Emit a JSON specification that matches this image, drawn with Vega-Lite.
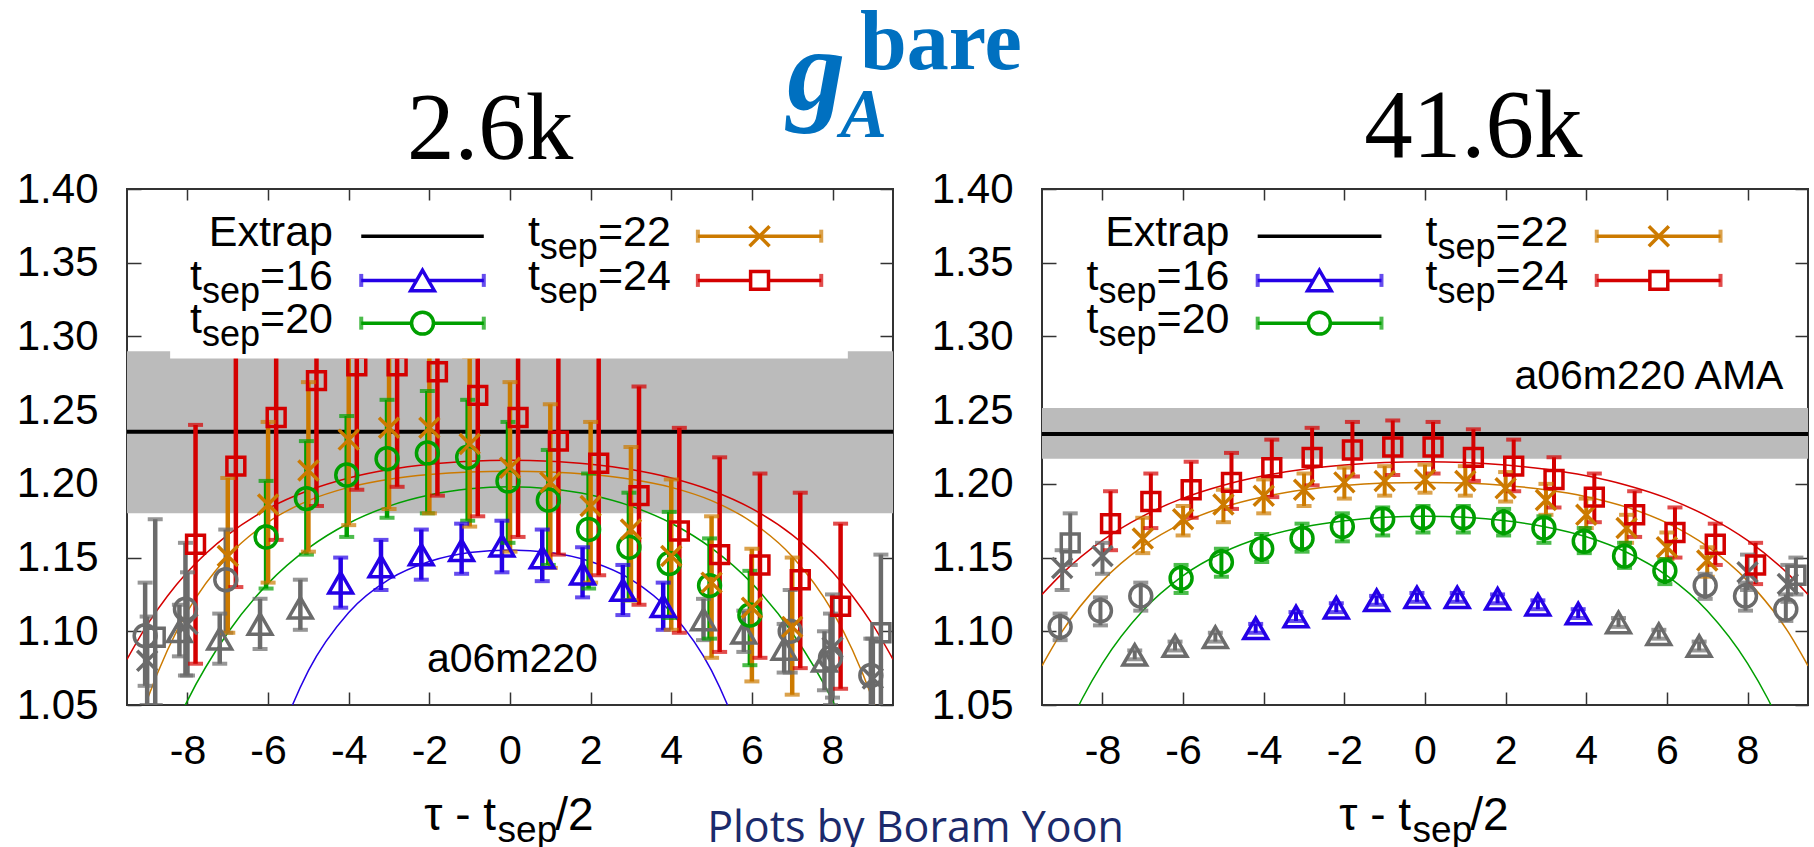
{
"$schema": "https://vega.github.io/schema/vega-lite/v6.json",
"background": "white",
"padding": {"left": 5, "top": 0, "right": 0, "bottom": 0},
"bounds": "flush",
"spacing": 149,
"config": {"view": {"stroke": "#333333", "strokeWidth": 2}, "font": "Liberation Sans"},
"datasets": {
"band": [
{"p":"L","x1":-9.5,"x2":9.5,"lo":1.18,"hi":1.29,"ex":1.2353},
{"p":"R","x1":-9.5,"x2":9.5,"lo":1.2171,"hi":1.2515,"ex":1.2339}
],
"box": [{"p":"L","x1":-8.43,"x2":8.38,"y1":1.285,"y2":1.391}],
"pts": [
{"p":"L","s":"16","c":"g","x":-8.2,"y":1.100,"lo":1.083,"hi":1.118},
{"p":"L","s":"16","c":"g","x":-7.2,"y":1.095,"lo":1.078,"hi":1.112},
{"p":"L","s":"16","c":"g","x":-6.2,"y":1.105,"lo":1.088,"hi":1.122},
{"p":"L","s":"16","c":"g","x":-5.2,"y":1.116,"lo":1.101,"hi":1.135},
{"p":"L","s":"16","c":"g","x":4.8,"y":1.108,"lo":1.094,"hi":1.122},
{"p":"L","s":"16","c":"g","x":5.8,"y":1.099,"lo":1.086,"hi":1.114},
{"p":"L","s":"16","c":"g","x":6.8,"y":1.088,"lo":1.072,"hi":1.105},
{"p":"L","s":"16","c":"g","x":7.8,"y":1.080,"lo":1.060,"hi":1.100},
{"p":"L","s":"20","c":"g","x":-9.05,"y":1.097,"lo":1.063,"hi":1.133},
{"p":"L","s":"20","c":"g","x":-8.05,"y":1.115,"lo":1.070,"hi":1.160},
{"p":"L","s":"20","c":"g","x":-7.05,"y":1.135,"lo":1.099,"hi":1.169},
{"p":"L","s":"20","c":"g","x":6.95,"y":1.100,"lo":1.072,"hi":1.128},
{"p":"L","s":"20","c":"g","x":7.95,"y":1.082,"lo":1.050,"hi":1.112},
{"p":"L","s":"20","c":"g","x":8.95,"y":1.070,"lo":1.045,"hi":1.095},
{"p":"L","s":"22","c":"g","x":-9,"y":1.080,"lo":1.050,"hi":1.110},
{"p":"L","s":"22","c":"g","x":-8,"y":1.105,"lo":1.070,"hi":1.140},
{"p":"L","s":"22","c":"g","x":8,"y":1.089,"lo":1.055,"hi":1.125},
{"p":"L","s":"22","c":"g","x":9,"y":1.068,"lo":1.045,"hi":1.095},
{"p":"L","s":"24","c":"g","x":-8.8,"y":1.096,"lo":1.050,"hi":1.176},
{"p":"L","s":"24","c":"g","x":9.2,"y":1.099,"lo":1.046,"hi":1.152},
{"p":"L","s":"16","c":"16","x":-4.2,"y":1.133,"lo":1.116,"hi":1.150},
{"p":"L","s":"16","c":"16","x":-3.2,"y":1.144,"lo":1.128,"hi":1.162},
{"p":"L","s":"16","c":"16","x":-2.2,"y":1.152,"lo":1.135,"hi":1.169},
{"p":"L","s":"16","c":"16","x":-1.2,"y":1.155,"lo":1.139,"hi":1.173},
{"p":"L","s":"16","c":"16","x":-0.2,"y":1.158,"lo":1.140,"hi":1.175},
{"p":"L","s":"16","c":"16","x":0.8,"y":1.150,"lo":1.134,"hi":1.169},
{"p":"L","s":"16","c":"16","x":1.8,"y":1.139,"lo":1.123,"hi":1.157},
{"p":"L","s":"16","c":"16","x":2.8,"y":1.128,"lo":1.111,"hi":1.145},
{"p":"L","s":"16","c":"16","x":3.8,"y":1.117,"lo":1.101,"hi":1.133},
{"p":"L","s":"20","c":"20","x":-6.05,"y":1.164,"lo":1.129,"hi":1.202},
{"p":"L","s":"20","c":"20","x":-5.05,"y":1.190,"lo":1.152,"hi":1.229},
{"p":"L","s":"20","c":"20","x":-4.05,"y":1.206,"lo":1.164,"hi":1.246},
{"p":"L","s":"20","c":"20","x":-3.05,"y":1.217,"lo":1.177,"hi":1.257},
{"p":"L","s":"20","c":"20","x":-2.05,"y":1.221,"lo":1.180,"hi":1.263},
{"p":"L","s":"20","c":"20","x":-1.05,"y":1.218,"lo":1.175,"hi":1.257},
{"p":"L","s":"20","c":"20","x":-0.05,"y":1.202,"lo":1.160,"hi":1.242},
{"p":"L","s":"20","c":"20","x":0.95,"y":1.189,"lo":1.145,"hi":1.223},
{"p":"L","s":"20","c":"20","x":1.95,"y":1.169,"lo":1.129,"hi":1.207},
{"p":"L","s":"20","c":"20","x":2.95,"y":1.157,"lo":1.121,"hi":1.194},
{"p":"L","s":"20","c":"20","x":3.95,"y":1.146,"lo":1.109,"hi":1.181},
{"p":"L","s":"20","c":"20","x":4.95,"y":1.131,"lo":1.095,"hi":1.163},
{"p":"L","s":"20","c":"20","x":5.95,"y":1.111,"lo":1.077,"hi":1.141},
{"p":"L","s":"22","c":"22","x":-7,"y":1.151,"lo":1.099,"hi":1.204},
{"p":"L","s":"22","c":"22","x":-6,"y":1.186,"lo":1.133,"hi":1.242},
{"p":"L","s":"22","c":"22","x":-5,"y":1.209,"lo":1.154,"hi":1.269},
{"p":"L","s":"22","c":"22","x":-4,"y":1.230,"lo":1.172,"hi":1.290},
{"p":"L","s":"22","c":"22","x":-3,"y":1.238,"lo":1.183,"hi":1.293},
{"p":"L","s":"22","c":"22","x":-2,"y":1.238,"lo":1.180,"hi":1.296},
{"p":"L","s":"22","c":"22","x":-1,"y":1.227,"lo":1.171,"hi":1.286},
{"p":"L","s":"22","c":"22","x":0,"y":1.211,"lo":1.154,"hi":1.269},
{"p":"L","s":"22","c":"22","x":1,"y":1.201,"lo":1.143,"hi":1.254},
{"p":"L","s":"22","c":"22","x":2,"y":1.185,"lo":1.133,"hi":1.242},
{"p":"L","s":"22","c":"22","x":3,"y":1.169,"lo":1.121,"hi":1.225},
{"p":"L","s":"22","c":"22","x":4,"y":1.151,"lo":1.101,"hi":1.203},
{"p":"L","s":"22","c":"22","x":5,"y":1.133,"lo":1.082,"hi":1.178},
{"p":"L","s":"22","c":"22","x":6,"y":1.116,"lo":1.066,"hi":1.156},
{"p":"L","s":"22","c":"22","x":7,"y":1.103,"lo":1.057,"hi":1.150},
{"p":"L","s":"24","c":"24","x":-7.8,"y":1.159,"lo":1.078,"hi":1.240},
{"p":"L","s":"24","c":"24","x":-6.8,"y":1.212,"lo":1.130,"hi":1.294},
{"p":"L","s":"24","c":"24","x":-5.8,"y":1.245,"lo":1.162,"hi":1.328},
{"p":"L","s":"24","c":"24","x":-4.8,"y":1.270,"lo":1.185,"hi":1.355},
{"p":"L","s":"24","c":"24","x":-3.8,"y":1.280,"lo":1.196,"hi":1.364},
{"p":"L","s":"24","c":"24","x":-2.8,"y":1.280,"lo":1.198,"hi":1.362},
{"p":"L","s":"24","c":"24","x":-1.8,"y":1.276,"lo":1.192,"hi":1.360},
{"p":"L","s":"24","c":"24","x":-0.8,"y":1.260,"lo":1.178,"hi":1.342},
{"p":"L","s":"24","c":"24","x":0.2,"y":1.245,"lo":1.164,"hi":1.326},
{"p":"L","s":"24","c":"24","x":1.2,"y":1.229,"lo":1.152,"hi":1.306},
{"p":"L","s":"24","c":"24","x":2.2,"y":1.214,"lo":1.138,"hi":1.290},
{"p":"L","s":"24","c":"24","x":3.2,"y":1.192,"lo":1.118,"hi":1.266},
{"p":"L","s":"24","c":"24","x":4.2,"y":1.168,"lo":1.099,"hi":1.238},
{"p":"L","s":"24","c":"24","x":5.2,"y":1.152,"lo":1.086,"hi":1.218},
{"p":"L","s":"24","c":"24","x":6.2,"y":1.145,"lo":1.082,"hi":1.207},
{"p":"L","s":"24","c":"24","x":7.2,"y":1.135,"lo":1.075,"hi":1.194},
{"p":"L","s":"24","c":"24","x":8.2,"y":1.117,"lo":1.061,"hi":1.173},
{"p":"R","s":"16","c":"g","x":-7.2,"y":1.084,"lo":1.081,"hi":1.087},
{"p":"R","s":"16","c":"g","x":-6.2,"y":1.090,"lo":1.087,"hi":1.093},
{"p":"R","s":"16","c":"g","x":-5.2,"y":1.096,"lo":1.093,"hi":1.099},
{"p":"R","s":"16","c":"g","x":4.8,"y":1.106,"lo":1.103,"hi":1.109},
{"p":"R","s":"16","c":"g","x":5.8,"y":1.098,"lo":1.095,"hi":1.101},
{"p":"R","s":"16","c":"g","x":6.8,"y":1.090,"lo":1.087,"hi":1.093},
{"p":"R","s":"20","c":"g","x":-9.05,"y":1.103,"lo":1.094,"hi":1.112},
{"p":"R","s":"20","c":"g","x":-8.05,"y":1.114,"lo":1.104,"hi":1.123},
{"p":"R","s":"20","c":"g","x":-7.05,"y":1.124,"lo":1.114,"hi":1.133},
{"p":"R","s":"20","c":"g","x":6.95,"y":1.131,"lo":1.122,"hi":1.139},
{"p":"R","s":"20","c":"g","x":7.95,"y":1.124,"lo":1.114,"hi":1.133},
{"p":"R","s":"20","c":"g","x":8.95,"y":1.115,"lo":1.107,"hi":1.125},
{"p":"R","s":"22","c":"g","x":-9,"y":1.143,"lo":1.128,"hi":1.155},
{"p":"R","s":"22","c":"g","x":-8,"y":1.151,"lo":1.139,"hi":1.160},
{"p":"R","s":"22","c":"g","x":8,"y":1.140,"lo":1.128,"hi":1.152},
{"p":"R","s":"22","c":"g","x":9,"y":1.132,"lo":1.120,"hi":1.145},
{"p":"R","s":"24","c":"g","x":-8.8,"y":1.160,"lo":1.145,"hi":1.180},
{"p":"R","s":"24","c":"g","x":9.2,"y":1.138,"lo":1.125,"hi":1.150},
{"p":"R","s":"16","c":"16","x":-4.2,"y":1.102,"lo":1.099,"hi":1.105},
{"p":"R","s":"16","c":"16","x":-3.2,"y":1.110,"lo":1.107,"hi":1.113},
{"p":"R","s":"16","c":"16","x":-2.2,"y":1.116,"lo":1.113,"hi":1.119},
{"p":"R","s":"16","c":"16","x":-1.2,"y":1.121,"lo":1.118,"hi":1.124},
{"p":"R","s":"16","c":"16","x":-0.2,"y":1.123,"lo":1.120,"hi":1.126},
{"p":"R","s":"16","c":"16","x":0.8,"y":1.123,"lo":1.120,"hi":1.126},
{"p":"R","s":"16","c":"16","x":1.8,"y":1.122,"lo":1.119,"hi":1.125},
{"p":"R","s":"16","c":"16","x":2.8,"y":1.118,"lo":1.115,"hi":1.121},
{"p":"R","s":"16","c":"16","x":3.8,"y":1.112,"lo":1.109,"hi":1.115},
{"p":"R","s":"20","c":"20","x":-6.05,"y":1.136,"lo":1.126,"hi":1.145},
{"p":"R","s":"20","c":"20","x":-5.05,"y":1.147,"lo":1.137,"hi":1.156},
{"p":"R","s":"20","c":"20","x":-4.05,"y":1.156,"lo":1.147,"hi":1.166},
{"p":"R","s":"20","c":"20","x":-3.05,"y":1.163,"lo":1.154,"hi":1.173},
{"p":"R","s":"20","c":"20","x":-2.05,"y":1.171,"lo":1.161,"hi":1.180},
{"p":"R","s":"20","c":"20","x":-1.05,"y":1.176,"lo":1.165,"hi":1.184},
{"p":"R","s":"20","c":"20","x":-0.05,"y":1.177,"lo":1.167,"hi":1.185},
{"p":"R","s":"20","c":"20","x":0.95,"y":1.177,"lo":1.167,"hi":1.185},
{"p":"R","s":"20","c":"20","x":1.95,"y":1.174,"lo":1.165,"hi":1.183},
{"p":"R","s":"20","c":"20","x":2.95,"y":1.170,"lo":1.160,"hi":1.178},
{"p":"R","s":"20","c":"20","x":3.95,"y":1.161,"lo":1.153,"hi":1.170},
{"p":"R","s":"20","c":"20","x":4.95,"y":1.151,"lo":1.143,"hi":1.160},
{"p":"R","s":"20","c":"20","x":5.95,"y":1.141,"lo":1.132,"hi":1.149},
{"p":"R","s":"22","c":"22","x":-7,"y":1.163,"lo":1.153,"hi":1.177},
{"p":"R","s":"22","c":"22","x":-6,"y":1.176,"lo":1.165,"hi":1.185},
{"p":"R","s":"22","c":"22","x":-5,"y":1.186,"lo":1.174,"hi":1.196},
{"p":"R","s":"22","c":"22","x":-4,"y":1.192,"lo":1.180,"hi":1.203},
{"p":"R","s":"22","c":"22","x":-3,"y":1.196,"lo":1.185,"hi":1.207},
{"p":"R","s":"22","c":"22","x":-2,"y":1.201,"lo":1.190,"hi":1.211},
{"p":"R","s":"22","c":"22","x":-1,"y":1.202,"lo":1.192,"hi":1.212},
{"p":"R","s":"22","c":"22","x":0,"y":1.203,"lo":1.194,"hi":1.213},
{"p":"R","s":"22","c":"22","x":1,"y":1.202,"lo":1.192,"hi":1.212},
{"p":"R","s":"22","c":"22","x":2,"y":1.197,"lo":1.188,"hi":1.208},
{"p":"R","s":"22","c":"22","x":3,"y":1.189,"lo":1.179,"hi":1.200},
{"p":"R","s":"22","c":"22","x":4,"y":1.179,"lo":1.170,"hi":1.190},
{"p":"R","s":"22","c":"22","x":5,"y":1.170,"lo":1.160,"hi":1.179},
{"p":"R","s":"22","c":"22","x":6,"y":1.157,"lo":1.149,"hi":1.167},
{"p":"R","s":"22","c":"22","x":7,"y":1.148,"lo":1.137,"hi":1.157},
{"p":"R","s":"24","c":"24","x":-7.8,"y":1.173,"lo":1.155,"hi":1.195},
{"p":"R","s":"24","c":"24","x":-6.8,"y":1.188,"lo":1.170,"hi":1.207},
{"p":"R","s":"24","c":"24","x":-5.8,"y":1.196,"lo":1.177,"hi":1.215},
{"p":"R","s":"24","c":"24","x":-4.8,"y":1.201,"lo":1.183,"hi":1.221},
{"p":"R","s":"24","c":"24","x":-3.8,"y":1.211,"lo":1.191,"hi":1.230},
{"p":"R","s":"24","c":"24","x":-2.8,"y":1.218,"lo":1.199,"hi":1.238},
{"p":"R","s":"24","c":"24","x":-1.8,"y":1.223,"lo":1.205,"hi":1.242},
{"p":"R","s":"24","c":"24","x":-0.8,"y":1.225,"lo":1.206,"hi":1.243},
{"p":"R","s":"24","c":"24","x":0.2,"y":1.225,"lo":1.207,"hi":1.242},
{"p":"R","s":"24","c":"24","x":1.2,"y":1.218,"lo":1.202,"hi":1.237},
{"p":"R","s":"24","c":"24","x":2.2,"y":1.212,"lo":1.195,"hi":1.230},
{"p":"R","s":"24","c":"24","x":3.2,"y":1.203,"lo":1.184,"hi":1.218},
{"p":"R","s":"24","c":"24","x":4.2,"y":1.191,"lo":1.174,"hi":1.207},
{"p":"R","s":"24","c":"24","x":5.2,"y":1.179,"lo":1.164,"hi":1.195},
{"p":"R","s":"24","c":"24","x":6.2,"y":1.167,"lo":1.150,"hi":1.184},
{"p":"R","s":"24","c":"24","x":7.2,"y":1.159,"lo":1.145,"hi":1.173},
{"p":"R","s":"24","c":"24","x":8.2,"y":1.145,"lo":1.132,"hi":1.160}
],
"fit": [
{"p":"L","s":"24","x":-9.5,"y":1.081},{"p":"L","s":"24","x":-9,"y":1.1043},{"p":"L","s":"24","x":-8.5,"y":1.1238},{"p":"L","s":"24","x":-8,"y":1.1402},{"p":"L","s":"24","x":-7,"y":1.1654},{"p":"L","s":"24","x":-6,"y":1.1832},{"p":"L","s":"24","x":-5,"y":1.1955},{"p":"L","s":"24","x":-4,"y":1.204},{"p":"L","s":"24","x":-3,"y":1.2097},{"p":"L","s":"24","x":-2,"y":1.2133},{"p":"L","s":"24","x":-1,"y":1.2154},{"p":"L","s":"24","x":0,"y":1.216},{"p":"L","s":"24","x":1,"y":1.2154},{"p":"L","s":"24","x":2,"y":1.2133},{"p":"L","s":"24","x":3,"y":1.2097},{"p":"L","s":"24","x":4,"y":1.204},{"p":"L","s":"24","x":5,"y":1.1955},{"p":"L","s":"24","x":6,"y":1.1832},{"p":"L","s":"24","x":7,"y":1.1654},{"p":"L","s":"24","x":8,"y":1.1402},{"p":"L","s":"24","x":8.5,"y":1.1238},{"p":"L","s":"24","x":9,"y":1.1043},{"p":"L","s":"24","x":9.5,"y":1.081},
{"p":"L","s":"22","x":-9.5,"y":1.0115},{"p":"L","s":"22","x":-9,"y":1.0535},{"p":"L","s":"22","x":-8.5,"y":1.087},{"p":"L","s":"22","x":-8,"y":1.1135},{"p":"L","s":"22","x":-7,"y":1.1508},{"p":"L","s":"22","x":-6,"y":1.1741},{"p":"L","s":"22","x":-5,"y":1.1886},{"p":"L","s":"22","x":-4,"y":1.1976},{"p":"L","s":"22","x":-3,"y":1.2031},{"p":"L","s":"22","x":-2,"y":1.2063},{"p":"L","s":"22","x":-1,"y":1.208},{"p":"L","s":"22","x":0,"y":1.2085},{"p":"L","s":"22","x":1,"y":1.208},{"p":"L","s":"22","x":2,"y":1.2063},{"p":"L","s":"22","x":3,"y":1.2031},{"p":"L","s":"22","x":4,"y":1.1976},{"p":"L","s":"22","x":5,"y":1.1886},{"p":"L","s":"22","x":6,"y":1.1741},{"p":"L","s":"22","x":7,"y":1.1508},{"p":"L","s":"22","x":8,"y":1.1135},{"p":"L","s":"22","x":8.5,"y":1.087},{"p":"L","s":"22","x":9,"y":1.0535},{"p":"L","s":"22","x":9.5,"y":1.0115},
{"p":"L","s":"20","x":-9,"y":0.989},{"p":"L","s":"20","x":-8.5,"y":1.023},{"p":"L","s":"20","x":-8,"y":1.053},{"p":"L","s":"20","x":-7,"y":1.099},{"p":"L","s":"20","x":-6,"y":1.1325},{"p":"L","s":"20","x":-5,"y":1.1564},{"p":"L","s":"20","x":-4,"y":1.1733},{"p":"L","s":"20","x":-3,"y":1.1849},{"p":"L","s":"20","x":-2,"y":1.1924},{"p":"L","s":"20","x":-1,"y":1.1966},{"p":"L","s":"20","x":0,"y":1.198},{"p":"L","s":"20","x":1,"y":1.1966},{"p":"L","s":"20","x":2,"y":1.1924},{"p":"L","s":"20","x":3,"y":1.1849},{"p":"L","s":"20","x":4,"y":1.1733},{"p":"L","s":"20","x":5,"y":1.1564},{"p":"L","s":"20","x":6,"y":1.1325},{"p":"L","s":"20","x":7,"y":1.099},{"p":"L","s":"20","x":8,"y":1.053},{"p":"L","s":"20","x":8.5,"y":1.023},{"p":"L","s":"20","x":9,"y":0.989},
{"p":"L","s":"16","x":-6,"y":1.004},{"p":"L","s":"16","x":-5.5,"y":1.043},{"p":"L","s":"16","x":-5,"y":1.0733},{"p":"L","s":"16","x":-4,"y":1.1128},{"p":"L","s":"16","x":-3,"y":1.1352},{"p":"L","s":"16","x":-2,"y":1.1473},{"p":"L","s":"16","x":-1,"y":1.1534},{"p":"L","s":"16","x":0,"y":1.1552},{"p":"L","s":"16","x":1,"y":1.1534},{"p":"L","s":"16","x":2,"y":1.1473},{"p":"L","s":"16","x":3,"y":1.1352},{"p":"L","s":"16","x":4,"y":1.1128},{"p":"L","s":"16","x":5,"y":1.0733},{"p":"L","s":"16","x":5.5,"y":1.043},{"p":"L","s":"16","x":6,"y":1.004},
{"p":"R","s":"24","x":-9.5,"y":1.125},{"p":"R","s":"24","x":-9,"y":1.1391},{"p":"R","s":"24","x":-8,"y":1.1616},{"p":"R","s":"24","x":-7,"y":1.1781},{"p":"R","s":"24","x":-6,"y":1.1903},{"p":"R","s":"24","x":-5,"y":1.1991},{"p":"R","s":"24","x":-4,"y":1.2055},{"p":"R","s":"24","x":-3,"y":1.2099},{"p":"R","s":"24","x":-2,"y":1.2128},{"p":"R","s":"24","x":-1,"y":1.2145},{"p":"R","s":"24","x":0,"y":1.215},{"p":"R","s":"24","x":1,"y":1.2145},{"p":"R","s":"24","x":2,"y":1.2128},{"p":"R","s":"24","x":3,"y":1.2099},{"p":"R","s":"24","x":4,"y":1.2055},{"p":"R","s":"24","x":5,"y":1.1991},{"p":"R","s":"24","x":6,"y":1.1903},{"p":"R","s":"24","x":7,"y":1.1781},{"p":"R","s":"24","x":8,"y":1.1616},{"p":"R","s":"24","x":9,"y":1.1391},{"p":"R","s":"24","x":9.5,"y":1.125},
{"p":"R","s":"22","x":-9.5,"y":1.0766},{"p":"R","s":"22","x":-9,"y":1.0999},{"p":"R","s":"22","x":-8,"y":1.1342},{"p":"R","s":"22","x":-7,"y":1.1576},{"p":"R","s":"22","x":-6,"y":1.1735},{"p":"R","s":"22","x":-5,"y":1.1842},{"p":"R","s":"22","x":-4,"y":1.1913},{"p":"R","s":"22","x":-3,"y":1.196},{"p":"R","s":"22","x":-2,"y":1.1989},{"p":"R","s":"22","x":-1,"y":1.2005},{"p":"R","s":"22","x":0,"y":1.201},{"p":"R","s":"22","x":1,"y":1.2005},{"p":"R","s":"22","x":2,"y":1.1989},{"p":"R","s":"22","x":3,"y":1.196},{"p":"R","s":"22","x":4,"y":1.1913},{"p":"R","s":"22","x":5,"y":1.1842},{"p":"R","s":"22","x":6,"y":1.1735},{"p":"R","s":"22","x":7,"y":1.1576},{"p":"R","s":"22","x":8,"y":1.1342},{"p":"R","s":"22","x":9,"y":1.0999},{"p":"R","s":"22","x":9.5,"y":1.0766},
{"p":"R","s":"20","x":-9,"y":1.0252},{"p":"R","s":"20","x":-8.5,"y":1.0544},{"p":"R","s":"20","x":-8,"y":1.0783},{"p":"R","s":"20","x":-7,"y":1.114},{"p":"R","s":"20","x":-6,"y":1.1378},{"p":"R","s":"20","x":-5,"y":1.1536},{"p":"R","s":"20","x":-4,"y":1.1641},{"p":"R","s":"20","x":-3,"y":1.1708},{"p":"R","s":"20","x":-2,"y":1.175},{"p":"R","s":"20","x":-1,"y":1.1773},{"p":"R","s":"20","x":0,"y":1.178},{"p":"R","s":"20","x":1,"y":1.1773},{"p":"R","s":"20","x":2,"y":1.175},{"p":"R","s":"20","x":3,"y":1.1708},{"p":"R","s":"20","x":4,"y":1.1641},{"p":"R","s":"20","x":5,"y":1.1536},{"p":"R","s":"20","x":6,"y":1.1378},{"p":"R","s":"20","x":7,"y":1.114},{"p":"R","s":"20","x":8,"y":1.0783},{"p":"R","s":"20","x":8.5,"y":1.0544},{"p":"R","s":"20","x":9,"y":1.0252}
],
"leg": [
{"p":"L","k":"extrap","ry":1.368,"x1":-3.69,"x2":-0.65,"xm":-2.17,"xt":-4.39,"lab":"Extrap"},
{"p":"L","k":"16","ry":1.338,"x1":-3.69,"x2":-0.65,"xm":-2.17,"xt":-4.39,"lab":"=16"},
{"p":"L","k":"20","ry":1.309,"x1":-3.69,"x2":-0.65,"xm":-2.17,"xt":-4.39,"lab":"=20"},
{"p":"L","k":"22","ry":1.368,"x1":4.66,"x2":7.72,"xm":6.19,"xt":3.99,"lab":"=22"},
{"p":"L","k":"24","ry":1.338,"x1":4.66,"x2":7.72,"xm":6.19,"xt":3.99,"lab":"=24"},
{"p":"R","k":"extrap","ry":1.368,"x1":-4.15,"x2":-1.08,"xm":-2.62,"xt":-4.85,"lab":"Extrap"},
{"p":"R","k":"16","ry":1.338,"x1":-4.15,"x2":-1.08,"xm":-2.62,"xt":-4.85,"lab":"=16"},
{"p":"R","k":"20","ry":1.309,"x1":-4.15,"x2":-1.08,"xm":-2.62,"xt":-4.85,"lab":"=20"},
{"p":"R","k":"22","ry":1.368,"x1":4.26,"x2":7.33,"xm":5.8,"xt":3.56,"lab":"=22"},
{"p":"R","k":"24","ry":1.338,"x1":4.26,"x2":7.33,"xm":5.8,"xt":3.56,"lab":"=24"}
],
"txt": [
{"p":"L","id":"title","x":-0.49,"y":1.4204,"t":"2.6k"},
{"p":"R","id":"title","x":1.2,"y":1.4216,"t":"41.6k"},
{"p":"L","id":"g","x":6.88,"y":1.4546,"t":"g"},
{"p":"L","id":"A","x":8.19,"y":1.4353,"t":"A"},
{"p":"L","id":"bare","x":8.68,"y":1.4814,"t":"bare"},
{"p":"L","id":"ens","x":2.18,"y":1.0807,"t":"a06m220"},
{"p":"R","id":"ens","x":8.89,"y":1.2723,"t":"a06m220 AMA"},
{"p":"L","id":"xt1","x":-0.344,"y":0.965,"t":"τ - t"},
{"p":"L","id":"xt2","x":-0.307,"y":0.957,"t":"sep"},
{"p":"L","id":"xt3","x":1.12,"y":0.965,"t":"/2"},
{"p":"R","id":"xt1","x":-0.344,"y":0.965,"t":"τ - t"},
{"p":"R","id":"xt2","x":-0.307,"y":0.957,"t":"sep"},
{"p":"R","id":"xt3","x":1.12,"y":0.965,"t":"/2"},
{"p":"L","id":"credit","x":4.89,"y":0.9568,"t":"Plots by Boram Yoon"}
]
},
"hconcat": [
{
"width": 766, "height": 516,
"resolve": {"axis": {"x": "independent", "y": "independent"}},
"layer": [
{"data":{"name":"band"},"transform":[{"filter":"datum.p==='L'"}],"mark":{"type":"rect","color":"#bbbbbb"},
 "encoding":{"x":{"field":"x1","type":"quantitative","scale":{"domain":[-9.5,9.5],"nice":false,"zero":false},"axis":{"orient":"bottom","values":[-8,-6,-4,-2,0,2,4,6,8],"labelExpr":"'' + datum.value","title":null,"domain":false,"grid":false,"tickSize":-13,"tickWidth":1.5,"tickColor":"#333333","labelFont":"Liberation Sans","labelFontSize":41,"labelColor":"#000000","labelPadding":39,"labelFlush":false,"labelOverlap":false}},
 "x2":{"field":"x2"},
 "y":{"field":"lo","type":"quantitative","scale":{"domain":[1.05,1.4],"nice":false,"zero":false},"axis":{"orient":"left","values":[1.05,1.1,1.15,1.2,1.25,1.3,1.35,1.4],"format":".2f","title":null,"domain":false,"grid":false,"tickSize":-14,"tickWidth":1.5,"tickColor":"#333333","labelFont":"Liberation Sans","labelFontSize":42,"labelColor":"#000000","labelPadding":43,"labelOverlap":false,"labelFlush":false,"minExtent":121,"maxExtent":121}},
 "y2":{"field":"hi"}}},
{"data":{"name":"band"},"transform":[{"filter":"datum.p==='L'"}],"mark":{"type":"rule","color":"#000000","strokeWidth":4},
 "encoding":{"y":{"field":"ex","type":"quantitative","scale":{"domain":[1.05,1.4],"nice":false,"zero":false},"axis":null}}},
{"data":{"name":"fit"},"transform":[{"filter":"datum.p==='L'"}],"mark":{"type":"line","clip":true,"strokeWidth":1.5,"interpolate":"monotone"},
 "encoding":{"x":{"field":"x","type":"quantitative","scale":{"domain":[-9.5,9.5],"nice":false,"zero":false},"axis":{"orient":"top","values":[-8,-6,-4,-2,0,2,4,6,8],"title":null,"labels":false,"domain":false,"grid":false,"tickSize":-11,"tickWidth":1.5,"tickColor":"#333333","minExtent":0,"maxExtent":0}},
 "y":{"field":"y","type":"quantitative","scale":{"domain":[1.05,1.4],"nice":false,"zero":false},"axis":{"orient":"right","values":[1.05,1.1,1.15,1.2,1.25,1.3,1.35,1.4],"title":null,"labels":false,"domain":false,"grid":false,"tickSize":-13,"tickWidth":1.5,"tickColor":"#333333","minExtent":0,"maxExtent":0}},
 "color":{"field":"s","type":"nominal","scale":{"domain":["16","20","22","24","g","extrap"],"range":["#2400e6","#009f00","#cc7a00","#d40000","#6b6b6b","#000000"]},"legend":null}}},
{"data":{"name":"pts"},"transform":[{"filter":"datum.p==='L'"}],"mark":{"type":"rule","strokeWidth":4.5,"clip":true},
 "encoding":{"x":{"field":"x","type":"quantitative","scale":{"domain":[-9.5,9.5],"nice":false,"zero":false},"axis":null},"y":{"field":"lo","type":"quantitative","scale":{"domain":[1.05,1.4],"nice":false,"zero":false},"axis":null},"y2":{"field":"hi"},
 "color":{"field":"c","type":"nominal","scale":{"domain":["16","20","22","24","g","extrap"],"range":["#2400e6","#009f00","#cc7a00","#d40000","#6b6b6b","#000000"]},"legend":null}}},
{"data":{"name":"pts"},"transform":[{"filter":"datum.p==='L'"}],"mark":{"type":"tick","orient":"horizontal","size":15,"thickness":4,"clip":true},
 "encoding":{"x":{"field":"x","type":"quantitative","scale":{"domain":[-9.5,9.5],"nice":false,"zero":false},"axis":null},"y":{"field":"lo","type":"quantitative","scale":{"domain":[1.05,1.4],"nice":false,"zero":false},"axis":null},
 "color":{"field":"c","type":"nominal","scale":{"domain":["16","20","22","24","g","extrap"],"range":["#2400e6","#009f00","#cc7a00","#d40000","#6b6b6b","#000000"]},"legend":null}}},
{"data":{"name":"pts"},"transform":[{"filter":"datum.p==='L'"}],"mark":{"type":"tick","orient":"horizontal","size":15,"thickness":4,"clip":true},
 "encoding":{"x":{"field":"x","type":"quantitative","scale":{"domain":[-9.5,9.5],"nice":false,"zero":false},"axis":null},"y":{"field":"hi","type":"quantitative","scale":{"domain":[1.05,1.4],"nice":false,"zero":false},"axis":null},
 "color":{"field":"c","type":"nominal","scale":{"domain":["16","20","22","24","g","extrap"],"range":["#2400e6","#009f00","#cc7a00","#d40000","#6b6b6b","#000000"]},"legend":null}}},
{"data":{"name":"pts"},"transform":[{"filter":"datum.p==='L'"}],"mark":{"type":"point","filled":false,"strokeWidth":3.5,"clip":true,"opacity":1},
 "encoding":{"x":{"field":"x","type":"quantitative","scale":{"domain":[-9.5,9.5],"nice":false,"zero":false},"axis":null},"y":{"field":"y","type":"quantitative","scale":{"domain":[1.05,1.4],"nice":false,"zero":false},"axis":null},
 "color":{"field":"c","type":"nominal","scale":{"domain":["16","20","22","24","g","extrap"],"range":["#2400e6","#009f00","#cc7a00","#d40000","#6b6b6b","#000000"]},"legend":null},
 "shape":{"field":"s","type":"nominal","scale":{"domain":["16","20","22","24"],"range":["triangle-up","circle","M-1,-1L1,1M-1,1L1,-1","square"]},"legend":null},
 "size":{"field":"s","type":"ordinal","scale":{"domain":["16","20","22","24"],"range":[560,320,420,400]},"legend":null}}},
{"data":{"name":"box"},"mark":{"type":"rect","color":"#ffffff","clip":true},
 "encoding":{"x":{"field":"x1","type":"quantitative","scale":{"domain":[-9.5,9.5],"nice":false,"zero":false},"axis":null},"x2":{"field":"x2"},"y":{"field":"y1","type":"quantitative","scale":{"domain":[1.05,1.4],"nice":false,"zero":false},"axis":null},"y2":{"field":"y2"}}},
{"data":{"name":"leg"},"transform":[{"filter":"datum.p==='L'"}],"mark":{"type":"rule","strokeWidth":3.5},
 "encoding":{"x":{"field":"x1","type":"quantitative","scale":{"domain":[-9.5,9.5],"nice":false,"zero":false},"axis":null},"x2":{"field":"x2"},"y":{"field":"ry","type":"quantitative","scale":{"domain":[1.05,1.4],"nice":false,"zero":false},"axis":null},
 "color":{"field":"k","type":"nominal","scale":{"domain":["16","20","22","24","g","extrap"],"range":["#2400e6","#009f00","#cc7a00","#d40000","#6b6b6b","#000000"]},"legend":null}}},
{"data":{"name":"leg"},"transform":[{"filter":"datum.p==='L' && datum.k!=='extrap'"}],"mark":{"type":"tick","orient":"vertical","size":13,"thickness":4},
 "encoding":{"x":{"field":"x1","type":"quantitative","scale":{"domain":[-9.5,9.5],"nice":false,"zero":false},"axis":null},"y":{"field":"ry","type":"quantitative","scale":{"domain":[1.05,1.4],"nice":false,"zero":false},"axis":null},
 "color":{"field":"k","type":"nominal","scale":{"domain":["16","20","22","24","g","extrap"],"range":["#2400e6","#009f00","#cc7a00","#d40000","#6b6b6b","#000000"]},"legend":null}}},
{"data":{"name":"leg"},"transform":[{"filter":"datum.p==='L' && datum.k!=='extrap'"}],"mark":{"type":"tick","orient":"vertical","size":13,"thickness":4},
 "encoding":{"x":{"field":"x2","type":"quantitative","scale":{"domain":[-9.5,9.5],"nice":false,"zero":false},"axis":null},"y":{"field":"ry","type":"quantitative","scale":{"domain":[1.05,1.4],"nice":false,"zero":false},"axis":null},
 "color":{"field":"k","type":"nominal","scale":{"domain":["16","20","22","24","g","extrap"],"range":["#2400e6","#009f00","#cc7a00","#d40000","#6b6b6b","#000000"]},"legend":null}}},
{"data":{"name":"leg"},"transform":[{"filter":"datum.p==='L' && datum.k!=='extrap'"}],"mark":{"type":"point","filled":false,"strokeWidth":3.5,"opacity":1,"fill":"#ffffff"},
 "encoding":{"x":{"field":"xm","type":"quantitative","scale":{"domain":[-9.5,9.5],"nice":false,"zero":false},"axis":null},"y":{"field":"ry","type":"quantitative","scale":{"domain":[1.05,1.4],"nice":false,"zero":false},"axis":null},
 "color":{"field":"k","type":"nominal","scale":{"domain":["16","20","22","24","g","extrap"],"range":["#2400e6","#009f00","#cc7a00","#d40000","#6b6b6b","#000000"]},"legend":null},
 "shape":{"field":"k","type":"nominal","scale":{"domain":["16","20","22","24"],"range":["triangle-up","circle","M-1,-1L1,1M-1,1L1,-1","square"]},"legend":null},
 "size":{"field":"k","type":"ordinal","scale":{"domain":["16","20","22","24"],"range":[560,320,420,400]},"legend":null}}},
{"data":{"name":"leg"},"transform":[{"filter":"datum.p==='L'"}],"mark":{"type":"text","align":"right","baseline":"middle","fontSize":43,"dy":-3,"font":"Liberation Sans","color":"#000000"},
 "encoding":{"x":{"field":"xt","type":"quantitative","scale":{"domain":[-9.5,9.5],"nice":false,"zero":false},"axis":null},"y":{"field":"ry","type":"quantitative","scale":{"domain":[1.05,1.4],"nice":false,"zero":false},"axis":null},"text":{"field":"lab"}}},
{"data":{"name":"leg"},"transform":[{"filter":"datum.p==='L' && datum.k!=='extrap'"}],"mark":{"type":"text","align":"right","baseline":"middle","fontSize":36,"dx":-73,"dy":12,"font":"Liberation Sans","color":"#000000","text":"sep"},
 "encoding":{"x":{"field":"xt","type":"quantitative","scale":{"domain":[-9.5,9.5],"nice":false,"zero":false},"axis":null},"y":{"field":"ry","type":"quantitative","scale":{"domain":[1.05,1.4],"nice":false,"zero":false},"axis":null}}},
{"data":{"name":"leg"},"transform":[{"filter":"datum.p==='L' && datum.k!=='extrap'"}],"mark":{"type":"text","align":"right","baseline":"middle","fontSize":43,"dx":-131,"dy":-3,"font":"Liberation Sans","color":"#000000","text":"t"},
 "encoding":{"x":{"field":"xt","type":"quantitative","scale":{"domain":[-9.5,9.5],"nice":false,"zero":false},"axis":null},"y":{"field":"ry","type":"quantitative","scale":{"domain":[1.05,1.4],"nice":false,"zero":false},"axis":null}}},
{"data":{"name":"txt"},"transform":[{"filter":"datum.p==='L' && datum.id==='title'"}],"mark":{"type":"text","align":"center","baseline":"alphabetic","fontSize":95,"font":"Liberation Serif","color":"#000000"},
 "encoding":{"x":{"field":"x","type":"quantitative","scale":{"domain":[-9.5,9.5],"nice":false,"zero":false},"axis":null},"y":{"field":"y","type":"quantitative","scale":{"domain":[1.05,1.4],"nice":false,"zero":false},"axis":null},"text":{"field":"t"}}},
{"data":{"name":"txt"},"transform":[{"filter":"datum.p==='L' && datum.id==='g'"}],"mark":{"type":"text","align":"left","baseline":"alphabetic","fontSize":116,"font":"Liberation Serif","fontWeight":"bold","fontStyle":"italic","color":"#0070c0"},
 "encoding":{"x":{"field":"x","type":"quantitative","scale":{"domain":[-9.5,9.5],"nice":false,"zero":false},"axis":null},"y":{"field":"y","type":"quantitative","scale":{"domain":[1.05,1.4],"nice":false,"zero":false},"axis":null},"text":{"field":"t"}}},
{"data":{"name":"txt"},"transform":[{"filter":"datum.p==='L' && datum.id==='A'"}],"mark":{"type":"text","align":"left","baseline":"alphabetic","fontSize":70,"font":"Liberation Serif","fontWeight":"bold","fontStyle":"italic","color":"#0070c0"},
 "encoding":{"x":{"field":"x","type":"quantitative","scale":{"domain":[-9.5,9.5],"nice":false,"zero":false},"axis":null},"y":{"field":"y","type":"quantitative","scale":{"domain":[1.05,1.4],"nice":false,"zero":false},"axis":null},"text":{"field":"t"}}},
{"data":{"name":"txt"},"transform":[{"filter":"datum.p==='L' && datum.id==='bare'"}],"mark":{"type":"text","align":"left","baseline":"alphabetic","fontSize":84,"font":"Liberation Serif","fontWeight":"bold","color":"#0070c0"},
 "encoding":{"x":{"field":"x","type":"quantitative","scale":{"domain":[-9.5,9.5],"nice":false,"zero":false},"axis":null},"y":{"field":"y","type":"quantitative","scale":{"domain":[1.05,1.4],"nice":false,"zero":false},"axis":null},"text":{"field":"t"}}},
{"data":{"name":"txt"},"transform":[{"filter":"datum.p==='L' && datum.id==='ens'"}],"mark":{"type":"text","align":"right","baseline":"middle","fontSize":41,"font":"Liberation Sans","color":"#000000"},
 "encoding":{"x":{"field":"x","type":"quantitative","scale":{"domain":[-9.5,9.5],"nice":false,"zero":false},"axis":null},"y":{"field":"y","type":"quantitative","scale":{"domain":[1.05,1.4],"nice":false,"zero":false},"axis":null},"text":{"field":"t"}}},
{"data":{"name":"txt"},"transform":[{"filter":"datum.p==='L' && datum.id==='xt1'"}],"mark":{"type":"text","align":"right","baseline":"alphabetic","fontSize":46,"font":"Liberation Sans","color":"#000000"},
 "encoding":{"x":{"field":"x","type":"quantitative","scale":{"domain":[-9.5,9.5],"nice":false,"zero":false},"axis":null},"y":{"field":"y","type":"quantitative","scale":{"domain":[1.05,1.4],"nice":false,"zero":false},"axis":null},"text":{"field":"t"}}},
{"data":{"name":"txt"},"transform":[{"filter":"datum.p==='L' && datum.id==='xt2'"}],"mark":{"type":"text","align":"left","baseline":"alphabetic","fontSize":37,"font":"Liberation Sans","color":"#000000"},
 "encoding":{"x":{"field":"x","type":"quantitative","scale":{"domain":[-9.5,9.5],"nice":false,"zero":false},"axis":null},"y":{"field":"y","type":"quantitative","scale":{"domain":[1.05,1.4],"nice":false,"zero":false},"axis":null},"text":{"field":"t"}}},
{"data":{"name":"txt"},"transform":[{"filter":"datum.p==='L' && datum.id==='xt3'"}],"mark":{"type":"text","align":"left","baseline":"alphabetic","fontSize":46,"font":"Liberation Sans","color":"#000000"},
 "encoding":{"x":{"field":"x","type":"quantitative","scale":{"domain":[-9.5,9.5],"nice":false,"zero":false},"axis":null},"y":{"field":"y","type":"quantitative","scale":{"domain":[1.05,1.4],"nice":false,"zero":false},"axis":null},"text":{"field":"t"}}},
{"data":{"name":"txt"},"transform":[{"filter":"datum.p==='L' && datum.id==='credit'"}],"mark":{"type":"text","align":"left","baseline":"alphabetic","fontSize":43,"font":"Open Sans","color":"#1b2a6b"},
 "encoding":{"x":{"field":"x","type":"quantitative","scale":{"domain":[-9.5,9.5],"nice":false,"zero":false},"axis":null},"y":{"field":"y","type":"quantitative","scale":{"domain":[1.05,1.4],"nice":false,"zero":false},"axis":null},"text":{"field":"t"}}}
]
},
{
"width": 766, "height": 516,
"resolve": {"axis": {"x": "independent", "y": "independent"}},
"layer": [
{"data":{"name":"band"},"transform":[{"filter":"datum.p==='R'"}],"mark":{"type":"rect","color":"#bbbbbb"},
 "encoding":{"x":{"field":"x1","type":"quantitative","scale":{"domain":[-9.5,9.5],"nice":false,"zero":false},"axis":{"orient":"bottom","values":[-8,-6,-4,-2,0,2,4,6,8],"labelExpr":"'' + datum.value","title":null,"domain":false,"grid":false,"tickSize":-13,"tickWidth":1.5,"tickColor":"#333333","labelFont":"Liberation Sans","labelFontSize":41,"labelColor":"#000000","labelPadding":39,"labelFlush":false,"labelOverlap":false}},
 "x2":{"field":"x2"},
 "y":{"field":"lo","type":"quantitative","scale":{"domain":[1.05,1.4],"nice":false,"zero":false},"axis":{"orient":"left","values":[1.05,1.1,1.15,1.2,1.25,1.3,1.35,1.4],"format":".2f","title":null,"domain":false,"grid":false,"tickSize":-14,"tickWidth":1.5,"tickColor":"#333333","labelFont":"Liberation Sans","labelFontSize":42,"labelColor":"#000000","labelPadding":43,"labelOverlap":false,"labelFlush":false,"minExtent":121,"maxExtent":121}},
 "y2":{"field":"hi"}}},
{"data":{"name":"band"},"transform":[{"filter":"datum.p==='R'"}],"mark":{"type":"rule","color":"#000000","strokeWidth":4},
 "encoding":{"y":{"field":"ex","type":"quantitative","scale":{"domain":[1.05,1.4],"nice":false,"zero":false},"axis":null}}},
{"data":{"name":"fit"},"transform":[{"filter":"datum.p==='R'"}],"mark":{"type":"line","clip":true,"strokeWidth":1.5,"interpolate":"monotone"},
 "encoding":{"x":{"field":"x","type":"quantitative","scale":{"domain":[-9.5,9.5],"nice":false,"zero":false},"axis":{"orient":"top","values":[-8,-6,-4,-2,0,2,4,6,8],"title":null,"labels":false,"domain":false,"grid":false,"tickSize":-11,"tickWidth":1.5,"tickColor":"#333333","minExtent":0,"maxExtent":0}},
 "y":{"field":"y","type":"quantitative","scale":{"domain":[1.05,1.4],"nice":false,"zero":false},"axis":{"orient":"right","values":[1.05,1.1,1.15,1.2,1.25,1.3,1.35,1.4],"title":null,"labels":false,"domain":false,"grid":false,"tickSize":-13,"tickWidth":1.5,"tickColor":"#333333","minExtent":0,"maxExtent":0}},
 "color":{"field":"s","type":"nominal","scale":{"domain":["16","20","22","24","g","extrap"],"range":["#2400e6","#009f00","#cc7a00","#d40000","#6b6b6b","#000000"]},"legend":null}}},
{"data":{"name":"pts"},"transform":[{"filter":"datum.p==='R'"}],"mark":{"type":"rule","strokeWidth":4,"clip":true},
 "encoding":{"x":{"field":"x","type":"quantitative","scale":{"domain":[-9.5,9.5],"nice":false,"zero":false},"axis":null},"y":{"field":"lo","type":"quantitative","scale":{"domain":[1.05,1.4],"nice":false,"zero":false},"axis":null},"y2":{"field":"hi"},
 "color":{"field":"c","type":"nominal","scale":{"domain":["16","20","22","24","g","extrap"],"range":["#2400e6","#009f00","#cc7a00","#d40000","#6b6b6b","#000000"]},"legend":null}}},
{"data":{"name":"pts"},"transform":[{"filter":"datum.p==='R'"}],"mark":{"type":"tick","orient":"horizontal","size":15,"thickness":4,"clip":true},
 "encoding":{"x":{"field":"x","type":"quantitative","scale":{"domain":[-9.5,9.5],"nice":false,"zero":false},"axis":null},"y":{"field":"lo","type":"quantitative","scale":{"domain":[1.05,1.4],"nice":false,"zero":false},"axis":null},
 "color":{"field":"c","type":"nominal","scale":{"domain":["16","20","22","24","g","extrap"],"range":["#2400e6","#009f00","#cc7a00","#d40000","#6b6b6b","#000000"]},"legend":null}}},
{"data":{"name":"pts"},"transform":[{"filter":"datum.p==='R'"}],"mark":{"type":"tick","orient":"horizontal","size":15,"thickness":4,"clip":true},
 "encoding":{"x":{"field":"x","type":"quantitative","scale":{"domain":[-9.5,9.5],"nice":false,"zero":false},"axis":null},"y":{"field":"hi","type":"quantitative","scale":{"domain":[1.05,1.4],"nice":false,"zero":false},"axis":null},
 "color":{"field":"c","type":"nominal","scale":{"domain":["16","20","22","24","g","extrap"],"range":["#2400e6","#009f00","#cc7a00","#d40000","#6b6b6b","#000000"]},"legend":null}}},
{"data":{"name":"pts"},"transform":[{"filter":"datum.p==='R'"}],"mark":{"type":"point","filled":false,"strokeWidth":3.5,"clip":true,"opacity":1},
 "encoding":{"x":{"field":"x","type":"quantitative","scale":{"domain":[-9.5,9.5],"nice":false,"zero":false},"axis":null},"y":{"field":"y","type":"quantitative","scale":{"domain":[1.05,1.4],"nice":false,"zero":false},"axis":null},
 "color":{"field":"c","type":"nominal","scale":{"domain":["16","20","22","24","g","extrap"],"range":["#2400e6","#009f00","#cc7a00","#d40000","#6b6b6b","#000000"]},"legend":null},
 "shape":{"field":"s","type":"nominal","scale":{"domain":["16","20","22","24"],"range":["triangle-up","circle","M-1,-1L1,1M-1,1L1,-1","square"]},"legend":null},
 "size":{"field":"s","type":"ordinal","scale":{"domain":["16","20","22","24"],"range":[560,320,420,400]},"legend":null}}},
{"data":{"name":"leg"},"transform":[{"filter":"datum.p==='R'"}],"mark":{"type":"rule","strokeWidth":3.5},
 "encoding":{"x":{"field":"x1","type":"quantitative","scale":{"domain":[-9.5,9.5],"nice":false,"zero":false},"axis":null},"x2":{"field":"x2"},"y":{"field":"ry","type":"quantitative","scale":{"domain":[1.05,1.4],"nice":false,"zero":false},"axis":null},
 "color":{"field":"k","type":"nominal","scale":{"domain":["16","20","22","24","g","extrap"],"range":["#2400e6","#009f00","#cc7a00","#d40000","#6b6b6b","#000000"]},"legend":null}}},
{"data":{"name":"leg"},"transform":[{"filter":"datum.p==='R' && datum.k!=='extrap'"}],"mark":{"type":"tick","orient":"vertical","size":13,"thickness":4},
 "encoding":{"x":{"field":"x1","type":"quantitative","scale":{"domain":[-9.5,9.5],"nice":false,"zero":false},"axis":null},"y":{"field":"ry","type":"quantitative","scale":{"domain":[1.05,1.4],"nice":false,"zero":false},"axis":null},
 "color":{"field":"k","type":"nominal","scale":{"domain":["16","20","22","24","g","extrap"],"range":["#2400e6","#009f00","#cc7a00","#d40000","#6b6b6b","#000000"]},"legend":null}}},
{"data":{"name":"leg"},"transform":[{"filter":"datum.p==='R' && datum.k!=='extrap'"}],"mark":{"type":"tick","orient":"vertical","size":13,"thickness":4},
 "encoding":{"x":{"field":"x2","type":"quantitative","scale":{"domain":[-9.5,9.5],"nice":false,"zero":false},"axis":null},"y":{"field":"ry","type":"quantitative","scale":{"domain":[1.05,1.4],"nice":false,"zero":false},"axis":null},
 "color":{"field":"k","type":"nominal","scale":{"domain":["16","20","22","24","g","extrap"],"range":["#2400e6","#009f00","#cc7a00","#d40000","#6b6b6b","#000000"]},"legend":null}}},
{"data":{"name":"leg"},"transform":[{"filter":"datum.p==='R' && datum.k!=='extrap'"}],"mark":{"type":"point","filled":false,"strokeWidth":3.5,"opacity":1,"fill":"#ffffff"},
 "encoding":{"x":{"field":"xm","type":"quantitative","scale":{"domain":[-9.5,9.5],"nice":false,"zero":false},"axis":null},"y":{"field":"ry","type":"quantitative","scale":{"domain":[1.05,1.4],"nice":false,"zero":false},"axis":null},
 "color":{"field":"k","type":"nominal","scale":{"domain":["16","20","22","24","g","extrap"],"range":["#2400e6","#009f00","#cc7a00","#d40000","#6b6b6b","#000000"]},"legend":null},
 "shape":{"field":"k","type":"nominal","scale":{"domain":["16","20","22","24"],"range":["triangle-up","circle","M-1,-1L1,1M-1,1L1,-1","square"]},"legend":null},
 "size":{"field":"k","type":"ordinal","scale":{"domain":["16","20","22","24"],"range":[560,320,420,400]},"legend":null}}},
{"data":{"name":"leg"},"transform":[{"filter":"datum.p==='R'"}],"mark":{"type":"text","align":"right","baseline":"middle","fontSize":43,"dy":-3,"font":"Liberation Sans","color":"#000000"},
 "encoding":{"x":{"field":"xt","type":"quantitative","scale":{"domain":[-9.5,9.5],"nice":false,"zero":false},"axis":null},"y":{"field":"ry","type":"quantitative","scale":{"domain":[1.05,1.4],"nice":false,"zero":false},"axis":null},"text":{"field":"lab"}}},
{"data":{"name":"leg"},"transform":[{"filter":"datum.p==='R' && datum.k!=='extrap'"}],"mark":{"type":"text","align":"right","baseline":"middle","fontSize":36,"dx":-73,"dy":12,"font":"Liberation Sans","color":"#000000","text":"sep"},
 "encoding":{"x":{"field":"xt","type":"quantitative","scale":{"domain":[-9.5,9.5],"nice":false,"zero":false},"axis":null},"y":{"field":"ry","type":"quantitative","scale":{"domain":[1.05,1.4],"nice":false,"zero":false},"axis":null}}},
{"data":{"name":"leg"},"transform":[{"filter":"datum.p==='R' && datum.k!=='extrap'"}],"mark":{"type":"text","align":"right","baseline":"middle","fontSize":43,"dx":-131,"dy":-3,"font":"Liberation Sans","color":"#000000","text":"t"},
 "encoding":{"x":{"field":"xt","type":"quantitative","scale":{"domain":[-9.5,9.5],"nice":false,"zero":false},"axis":null},"y":{"field":"ry","type":"quantitative","scale":{"domain":[1.05,1.4],"nice":false,"zero":false},"axis":null}}},
{"data":{"name":"txt"},"transform":[{"filter":"datum.p==='R' && datum.id==='title'"}],"mark":{"type":"text","align":"center","baseline":"alphabetic","fontSize":97,"font":"Liberation Serif","color":"#000000"},
 "encoding":{"x":{"field":"x","type":"quantitative","scale":{"domain":[-9.5,9.5],"nice":false,"zero":false},"axis":null},"y":{"field":"y","type":"quantitative","scale":{"domain":[1.05,1.4],"nice":false,"zero":false},"axis":null},"text":{"field":"t"}}},
{"data":{"name":"txt"},"transform":[{"filter":"datum.p==='R' && datum.id==='ens'"}],"mark":{"type":"text","align":"right","baseline":"middle","fontSize":41,"font":"Liberation Sans","color":"#000000"},
 "encoding":{"x":{"field":"x","type":"quantitative","scale":{"domain":[-9.5,9.5],"nice":false,"zero":false},"axis":null},"y":{"field":"y","type":"quantitative","scale":{"domain":[1.05,1.4],"nice":false,"zero":false},"axis":null},"text":{"field":"t"}}},
{"data":{"name":"txt"},"transform":[{"filter":"datum.p==='R' && datum.id==='xt1'"}],"mark":{"type":"text","align":"right","baseline":"alphabetic","fontSize":46,"font":"Liberation Sans","color":"#000000"},
 "encoding":{"x":{"field":"x","type":"quantitative","scale":{"domain":[-9.5,9.5],"nice":false,"zero":false},"axis":null},"y":{"field":"y","type":"quantitative","scale":{"domain":[1.05,1.4],"nice":false,"zero":false},"axis":null},"text":{"field":"t"}}},
{"data":{"name":"txt"},"transform":[{"filter":"datum.p==='R' && datum.id==='xt2'"}],"mark":{"type":"text","align":"left","baseline":"alphabetic","fontSize":37,"font":"Liberation Sans","color":"#000000"},
 "encoding":{"x":{"field":"x","type":"quantitative","scale":{"domain":[-9.5,9.5],"nice":false,"zero":false},"axis":null},"y":{"field":"y","type":"quantitative","scale":{"domain":[1.05,1.4],"nice":false,"zero":false},"axis":null},"text":{"field":"t"}}},
{"data":{"name":"txt"},"transform":[{"filter":"datum.p==='R' && datum.id==='xt3'"}],"mark":{"type":"text","align":"left","baseline":"alphabetic","fontSize":46,"font":"Liberation Sans","color":"#000000"},
 "encoding":{"x":{"field":"x","type":"quantitative","scale":{"domain":[-9.5,9.5],"nice":false,"zero":false},"axis":null},"y":{"field":"y","type":"quantitative","scale":{"domain":[1.05,1.4],"nice":false,"zero":false},"axis":null},"text":{"field":"t"}}}
]
}
]
}
